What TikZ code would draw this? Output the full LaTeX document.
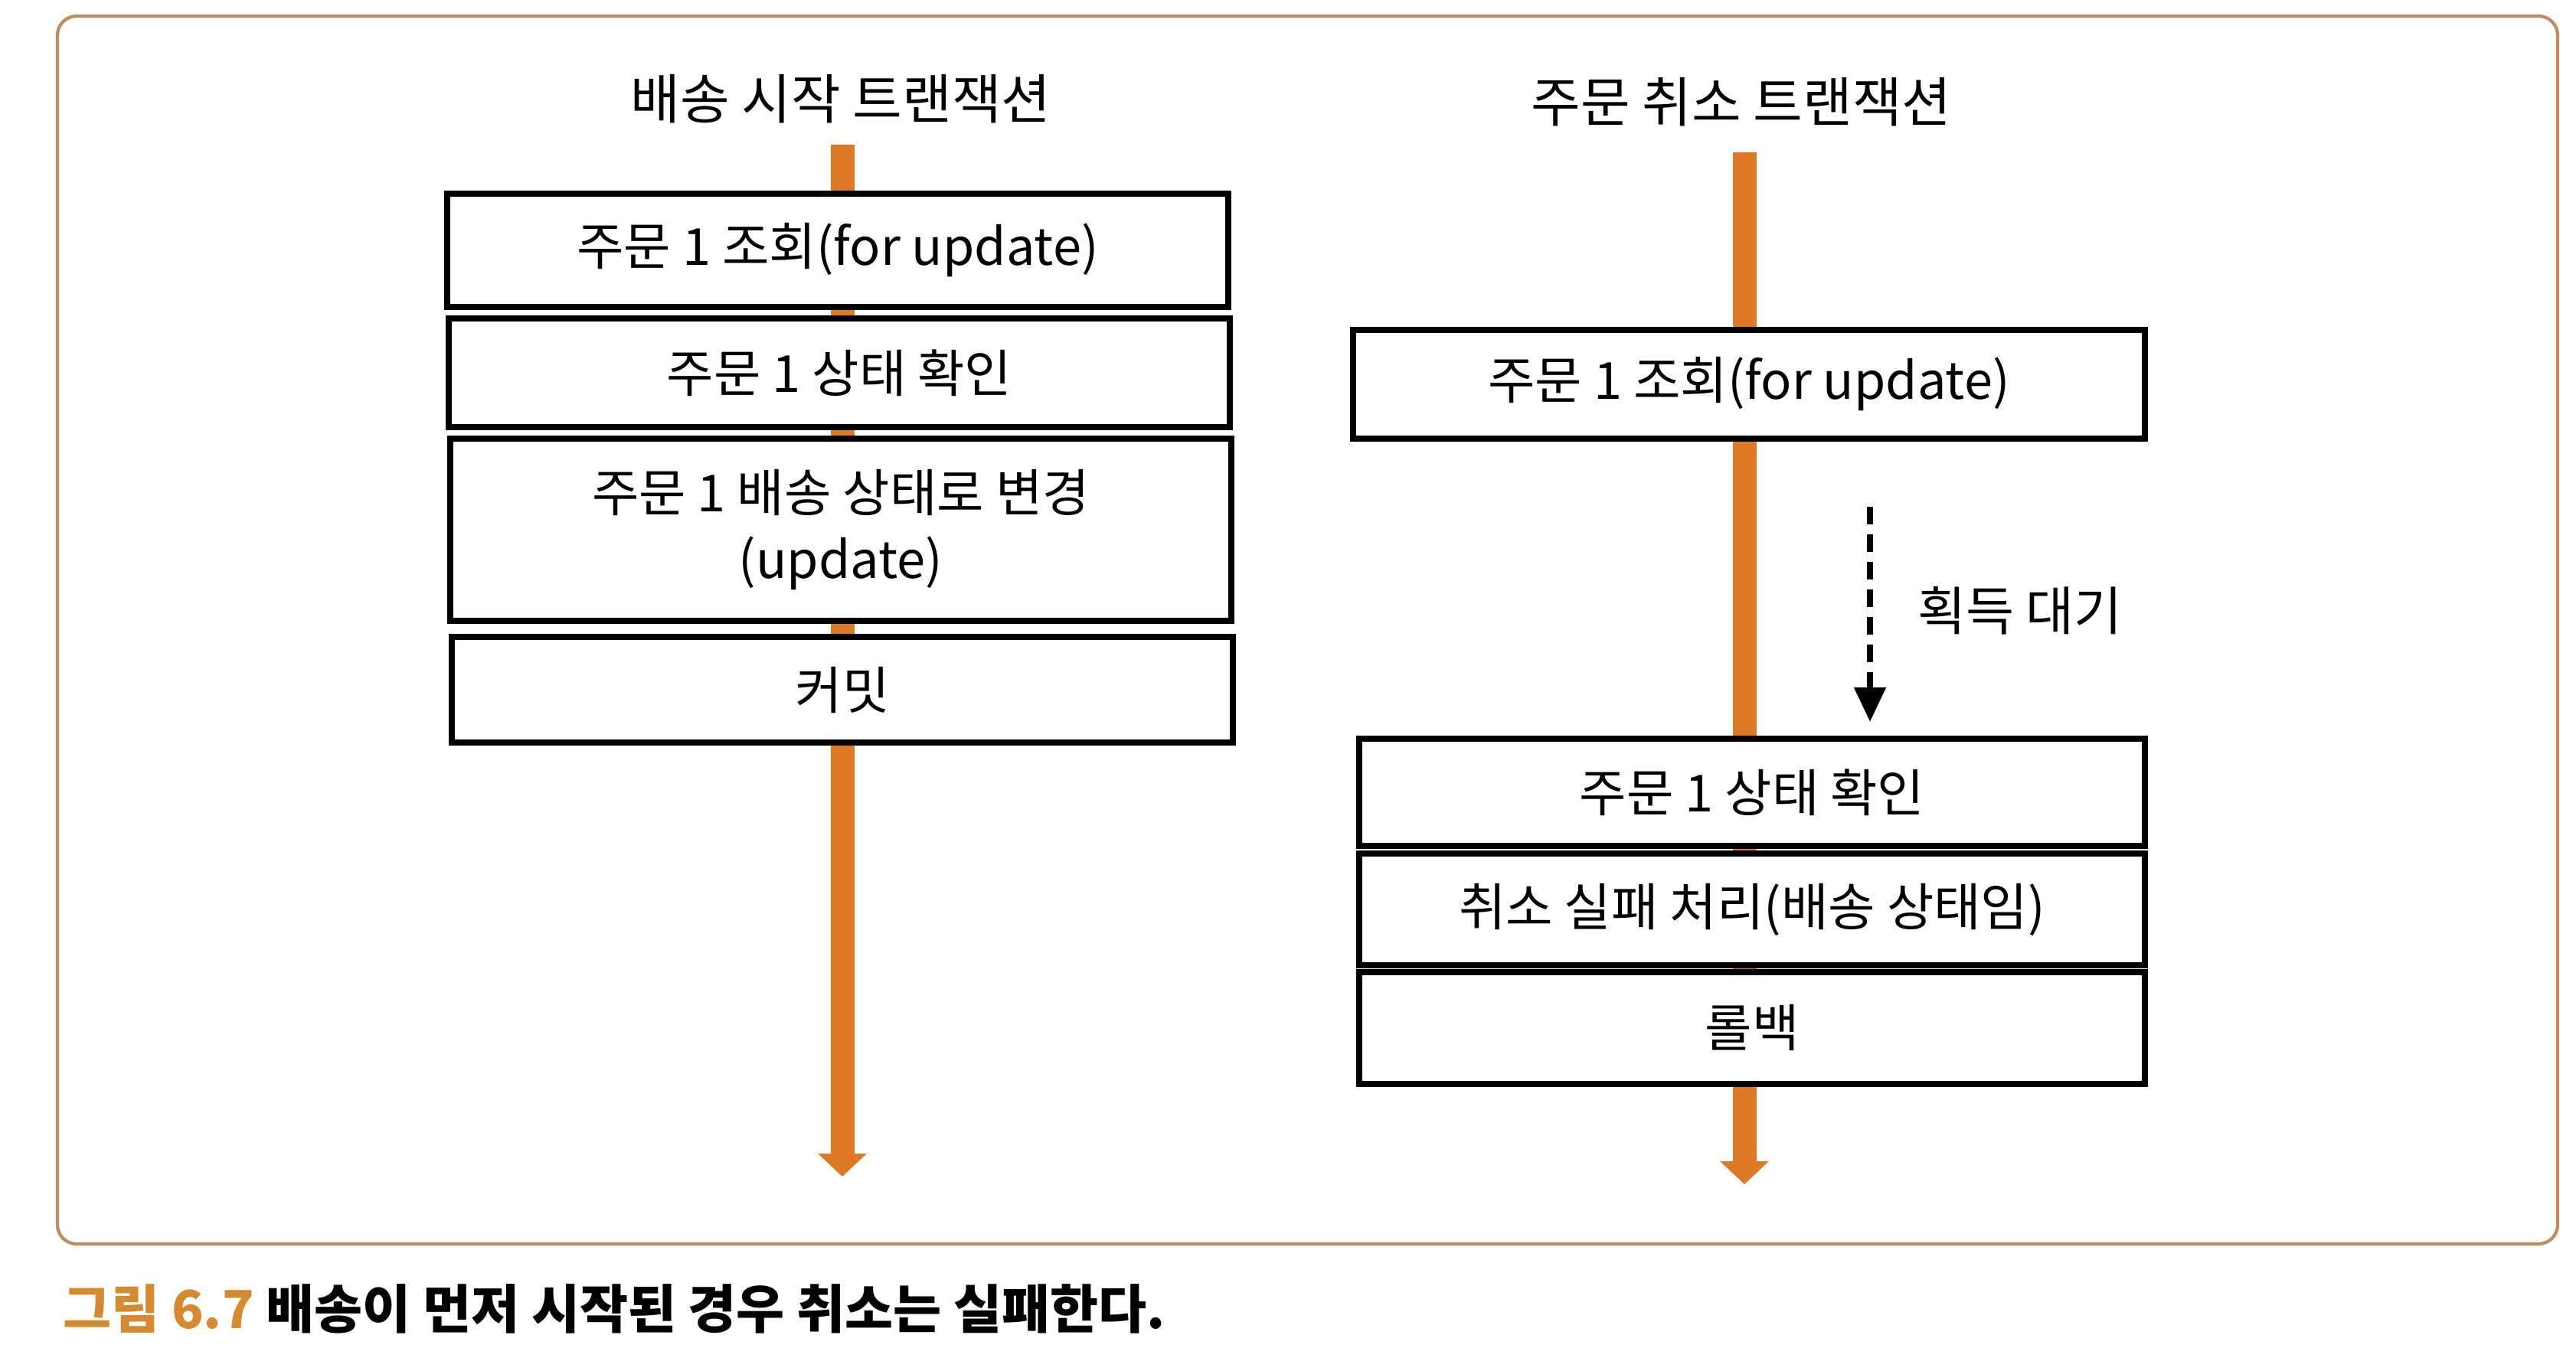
\documentclass[tikz,border=0pt]{standalone}
\usepackage{fontspec}
\setmainfont{Noto Sans CJK KR}
\usepackage{tikz}
\usetikzlibrary{arrows.meta,positioning}
\definecolor{txline}{RGB}{222,121,38}
\definecolor{framec}{RGB}{190,140,95}
\definecolor{capc}{RGB}{214,138,48}

\begin{document}
\begin{tikzpicture}
\tikzstyle{stepbox}=[draw=black,line width=2.2pt,fill=white,minimum height=1.42cm,inner sep=0pt,align=center,font=\fontsize{19}{25}\selectfont]
\tikzstyle{title}=[font=\fontsize{20}{24}\selectfont]
\tikzstyle{timeline}=[txline,line width=0.31cm,-{Triangle[width=0.62cm,length=0.3cm]}]
\tikzstyle{wait}=[black,line width=2.2pt,dash pattern=on 0.23cm off 0.13cm,-{Triangle[width=0.4cm,length=0.45cm]}]
\useasboundingbox (0,0) rectangle (33.64,-17.9);

% frame and caption
\draw[framec,line width=1.2pt,rounded corners=0.25cm] (0.75,-0.21) rectangle (33.4,-16.25);
\node (cap) [anchor=west,font=\fontsize{19.5}{23}\selectfont\bfseries] at (0.7,-17.1) {\textcolor{capc}{그림 6.7} 배송이 먼저 시작된 경우 취소는 실패한다.};

% transactions
\node [title] (t1) at (10.98,-1.29) {배송 시작 트랜잭션};
\node [title] (t2) at (22.74,-1.33) {주문 취소 트랜잭션};
\coordinate (s1) at (11.0,-1.89);
\coordinate (e1) at (11.0,-15.37);
\coordinate (s2) at (22.78,-1.99);
\coordinate (e2) at (22.78,-15.47);
\draw [timeline] (s1) -- (e1);
\draw [timeline] (s2) -- (e2);

\node [stepbox,minimum width=10.2cm,minimum height=1.48cm] (1) at (10.94,-3.27) {주문 1 조회(for update)};
\node [stepbox,minimum width=10.2cm] (2) at (10.96,-4.87) {주문 1 상태 확인};
\node [stepbox,minimum width=10.2cm,minimum height=2.38cm] (3) at (10.98,-6.92) {주문 1 배송 상태로 변경\\(update)};
\node [stepbox,minimum width=10.2cm,minimum height=1.38cm] (4) at (11.0,-9.01) {커밋};

\node [stepbox,minimum width=10.34cm] (5) at (22.84,-5.02) {주문 1 조회(for update)};
\node [stepbox,minimum width=10.26cm,minimum height=1.40cm] (6) at (22.88,-10.35) {주문 1 상태 확인};
\node [stepbox,minimum width=10.26cm,minimum height=1.46cm] (7) at (22.88,-11.88) {취소 실패 처리(배송 상태임)};
\node [stepbox,minimum width=10.26cm,minimum height=1.46cm] (8) at (22.88,-13.43) {롤백};

% lock wait
\coordinate (w1) at (24.42,-6.62);
\coordinate (w2) at (24.42,-9.43);
\draw [wait] (w1) -- (w2);
\node [anchor=west,font=\fontsize{19.5}{23}\selectfont] (9) at (24.92,-7.98) {획득 대기};
\end{tikzpicture}
\end{document}
